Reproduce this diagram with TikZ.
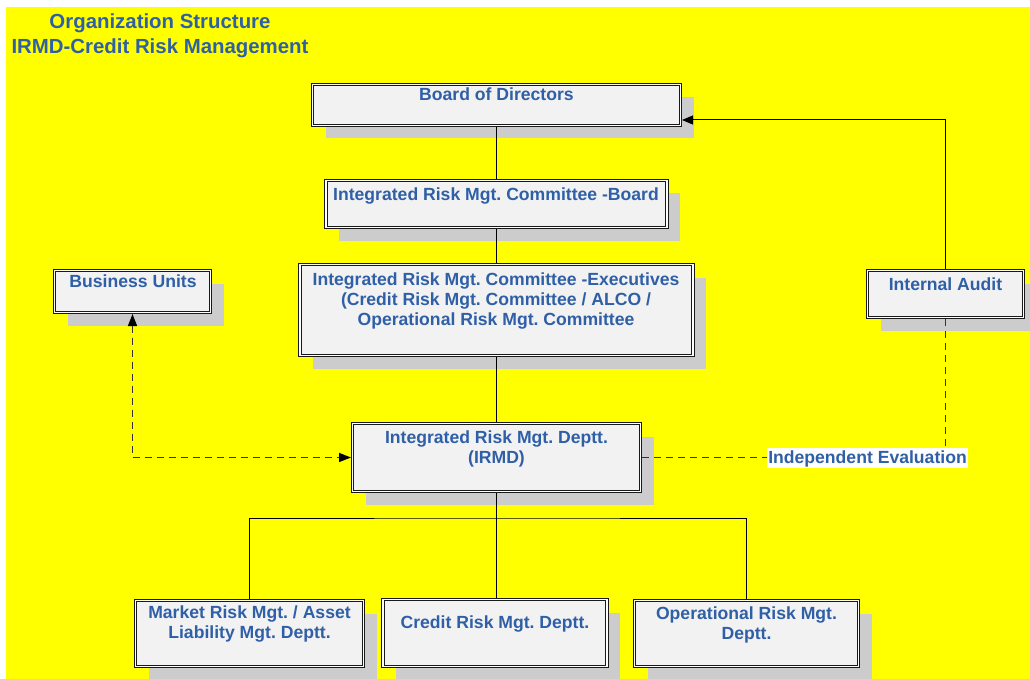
\documentclass[tikz,border=0pt]{standalone}
\usepackage{fontspec}
\setmainfont{Liberation Sans}
\usetikzlibrary{arrows.meta,shadows}
\definecolor{bgyellow}{RGB}{255,255,0}
\definecolor{shadowgray}{RGB}{204,204,204}
\definecolor{boxfill}{RGB}{242,242,242}
\definecolor{txtblue}{RGB}{47,95,167}
\frenchspacing
\begin{document}
\begin{tikzpicture}[x=1pt,y=-1pt,
  orgbox/.style={draw=black!90, line width=0.9pt, double=white, double distance=1.3pt,
    fill=boxfill, inner sep=0pt, outer sep=1.5pt,
    general shadow={fill=shadowgray, shadow xshift=13pt, shadow yshift=-13pt}},
  lbl/.style={font=\fontsize{17.6}{20.3}\selectfont\bfseries\frenchspacing, text=txtblue, align=center,
    inner sep=0pt, anchor=north},
  ttl/.style={font=\fontsize{20.4}{25}\selectfont\bfseries, text=txtblue, align=center,
    inner sep=0pt, anchor=north},
  conn/.style={draw=black, line width=1pt},
  dconn/.style={draw=black!80, line width=1.5pt, dash pattern=on 7pt off 5pt},
  tipend/.style={-{Triangle[length=11pt,width=9pt,color=black]}},
  tipboth/.style={{Triangle[length=12pt,width=9pt,color=black]}-{Triangle[length=12pt,width=9pt,color=black]}}
]
\useasboundingbox (0,0) rectangle (1030,679);
\fill[white] (0,0) rectangle (1030,679);
\fill[bgyellow] (6,7) rectangle (1030,679);

% title
\node[ttl] (title) at (160,13.2) {Organization Structure\\IRMD-Credit Risk Management};

% boxes
\node[orgbox, minimum width=368pt, minimum height=41pt] (board) at (496.5,105) {};
\node[orgbox, minimum width=341pt, minimum height=47pt] (irmcb) at (496.5,204) {};
\node[orgbox, minimum width=393pt, minimum height=91pt] (irmce) at (496.5,310) {};
\node[orgbox, minimum width=156pt, minimum height=42pt] (bu) at (132.5,291.5) {};
\node[orgbox, minimum width=156pt, minimum height=47pt] (ia) at (945.5,294) {};
\node[orgbox, minimum width=288pt, minimum height=68pt] (irmd) at (496.5,457.5) {};
\node[orgbox, minimum width=228pt, minimum height=66pt] (mkt) at (249.5,633.5) {};
\node[orgbox, minimum width=224pt, minimum height=67pt] (crd) at (495,633) {};
\node[orgbox, minimum width=224pt, minimum height=66pt] (ops) at (746.5,633.5) {};

% texts
\node[lbl] (boardT) at (496.5,87.4) {Board of Directors};
\node[lbl] (irmcbT) at (496,187.4) {Integrated Risk Mgt. Committee -Board};
\node[lbl] (irmceT) at (496,272.4) {Integrated Risk Mgt. Committee -Executives\\(Credit Risk Mgt. Committee / ALCO /\\Operational Risk Mgt. Committee};
\node[lbl] (buT) at (133,274.4) {Business Units};
\node[lbl] (iaT) at (945.5,277.4) {Internal Audit};
\node[lbl] (irmdT) at (496.5,430.4) {Integrated Risk Mgt. Deptt.\\(IRMD)};
\node[lbl] (mktT) at (249.5,605.4) {Market Risk Mgt. / Asset\\Liability Mgt. Deptt.};
\node[lbl] (crdT) at (495,615.4) {Credit Risk Mgt. Deptt.};
\node[lbl] (opsT) at (746.5,606.4) {Operational Risk Mgt.\\Deptt.};

% evaluation label
\node[font=\fontsize{17.6}{20.3}\selectfont\bfseries, text=txtblue, fill=white,
  inner xsep=1pt, inner ysep=1.8pt, anchor=base] (eval) at (867.5,463) {Independent Evaluation};

% solid connectors
\draw[conn] (board.south) -- (irmcb.north);
\draw[conn] (irmcb.south) -- (irmce.north);
\draw[conn] (irmce.south) -- (irmd.north);
\coordinate (bus) at (496.5,518);
\draw[conn] (irmd.south) -- (bus);
\draw[conn] (mkt.north) |- (bus) -| (ops.north);
\draw[conn] (bus) -- (bus |- crd.north);
\draw[conn, tipend] (ia.north) |- ([yshift=7pt]board.south east);

% dashed connectors
\draw[dconn, tipboth] (bu.south) |- (irmd.west);
\draw[dconn] (irmd.east) -- (irmd.east -| eval.west);
\draw[dconn] (ia.south) -- (ia.south |- eval.north);
\end{tikzpicture}
\end{document}
